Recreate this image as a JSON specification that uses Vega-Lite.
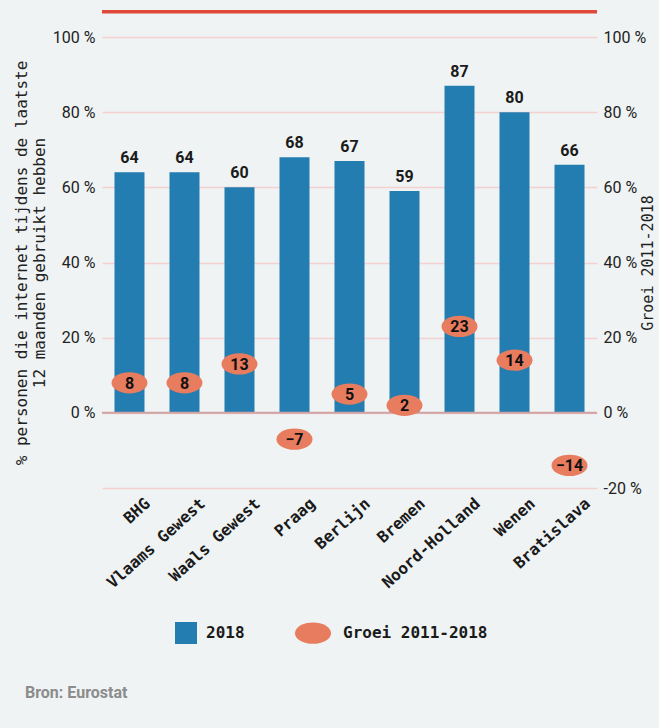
{
  "$schema": "https://vega.github.io/schema/vega-lite/v6.json",
  "autosize": "none",
  "width": 495,
  "height": 451,
  "padding": {"left": 102, "top": 37, "right": 62, "bottom": 240},
  "background": "#eff3f4",
  "title": {
    "text": "Bron: Eurostat",
    "orient": "bottom",
    "anchor": "start",
    "frame": "group",
    "offset": 38,
    "dx": -77,
    "font": "Roboto",
    "fontSize": 16,
    "fontWeight": "bold",
    "color": "#8c8c8c"
  },
  "config": {
    "view": {"stroke": null},
    "font": "Roboto"
  },
  "data": {
    "values": [
      {"regio": "BHG", "v2018": 64, "groei": 8},
      {"regio": "Vlaams Gewest", "v2018": 64, "groei": 8},
      {"regio": "Waals Gewest", "v2018": 60, "groei": 13},
      {"regio": "Praag", "v2018": 68, "groei": -7},
      {"regio": "Berlijn", "v2018": 67, "groei": 5},
      {"regio": "Bremen", "v2018": 59, "groei": 2},
      {"regio": "Noord-Holland", "v2018": 87, "groei": 23},
      {"regio": "Wenen", "v2018": 80, "groei": 14},
      {"regio": "Bratislava", "v2018": 66, "groei": -14}
    ]
  },
  "encoding": {
    "x": {
      "field": "regio",
      "type": "nominal",
      "sort": null,
      "scale": {"paddingInner": 0.4545, "paddingOuter": 0.227},
      "axis": {
        "title": null,
        "labelAngle": -42,
        "labelFont": "DejaVu Sans Mono",
        "labelFontWeight": "bold",
        "labelFontSize": 16,
        "labelColor": "#1a1a1a",
        "labelPadding": 7,
        "labelOffset": 13,
        "ticks": false,
        "domain": false
      }
    }
  },
  "layer": [
    {
      "data": {"values": [{}]},
      "mark": {"type": "rule", "color": "#e0493a", "strokeWidth": 3.5},
      "encoding": {
        "x": null,
        "y": {"datum": 106.7, "type": "quantitative", "scale": {"domain": [-20, 100]}, "axis": null}
      }
    },
    {
      "mark": {"type": "bar", "color": "#237db0"},
      "encoding": {
        "y": {
          "field": "v2018",
          "type": "quantitative",
          "scale": {"domain": [-20, 100], "nice": false, "zero": false},
          "axis": {
            "orient": "left",
            "values": [-20, 0, 20, 40, 60, 80, 100],
            "labelExpr": "datum.value < 0 ? '' : datum.value + ' %'",
            "grid": true,
            "gridColor": "#f4d0d0",
            "gridWidth": 1.5,
            "ticks": false,
            "domain": false,
            "labelFont": "Roboto",
            "labelFontSize": 16,
            "labelColor": "#222222",
            "labelPadding": 7,
            "title": ["% personen die internet tijdens de laatste", "12 maanden gebruikt hebben"],
            "titleFont": "DejaVu Sans Mono",
            "titleFontSize": 16,
            "titleFontWeight": "normal",
            "titleColor": "#222222",
            "titlePadding": 5,
            "titleLineHeight": 18
          }
        },
        "color": {
          "datum": "2018",
          "type": "nominal",
          "scale": {"domain": ["2018", "Groei 2011-2018"], "range": ["#237db0", "#e87c5f"]},
          "legend": {
            "orient": "none",
            "legendX": 65,
            "legendY": 577,
            "direction": "horizontal",
            "title": null,
            "padding": 0,
            "symbolSize": 1296,
            "labelFont": "DejaVu Sans Mono",
            "labelFontWeight": "bold",
            "labelFontSize": 16,
            "labelColor": "#1a1a1a",
            "labelOffset": 7,
            "columnPadding": 47,
            "encode": {
              "symbols": {
                "update": {
                  "shape": {"signal": "datum.value === '2018' ? 'square' : 'M-1,0A1,0.59,0,1,0,1,0A1,0.59,0,1,0,-1,0Z'"},
                  "size": {"signal": "datum.value === '2018' ? 484 : 1296"},
                  "fill": {"signal": "datum.value === '2018' ? '#1e6fb8' : '#e87c5f'"},
                  "stroke": {"value": "transparent"},
                  "opacity": {"value": 1},
                  "fillOpacity": {"value": 1}
                }
              },
              "labels": {
                "update": {
                  "dx": {"signal": "datum.value === '2018' ? -6 : 4"}
                }
              }
            }
          }
        }
      }
    },
    {
      "data": {"values": [{}]},
      "mark": {"type": "rule", "color": "#cfa3a3", "strokeWidth": 2},
      "encoding": {
        "x": null,
        "y": {"datum": 0, "type": "quantitative", "axis": null}
      }
    },
    {
      "mark": {"type": "text", "baseline": "alphabetic", "dy": -9, "font": "Roboto", "fontWeight": "bold", "fontSize": 16, "color": "#1a1a1a"},
      "encoding": {
        "y": {"field": "v2018", "type": "quantitative", "axis": null},
        "text": {"field": "v2018", "type": "quantitative"}
      }
    },
    {
      "mark": {"type": "point", "filled": true, "opacity": 1, "size": 1296, "shape": "M-1,0A1,0.59,0,1,0,1,0A1,0.59,0,1,0,-1,0Z"},
      "encoding": {
        "y": {
          "field": "groei",
          "type": "quantitative",
          "axis": {
            "orient": "right",
            "values": [-20, 0, 20, 40, 60, 80, 100],
            "labelExpr": "datum.value + ' %'",
            "grid": false,
            "ticks": false,
            "domain": false,
            "labelFont": "Roboto",
            "labelFontSize": 16,
            "labelColor": "#222222",
            "labelPadding": 6,
            "title": "Groei 2011-2018",
            "titleAngle": 270,
            "titleFont": "DejaVu Sans Mono",
            "titleFontSize": 15,
            "titleFontWeight": "normal",
            "titleColor": "#222222",
            "titlePadding": 10
          }
        },
        "color": {"datum": "Groei 2011-2018", "type": "nominal"}
      }
    },
    {
      "mark": {"type": "text", "baseline": "middle", "dy": 1, "font": "Roboto", "fontWeight": "bold", "fontSize": 16, "color": "#111111"},
      "encoding": {
        "y": {"field": "groei", "type": "quantitative", "axis": null},
        "text": {"field": "groei", "type": "quantitative"}
      }
    }
  ],
  "resolve": {"axis": {"y": "independent"}}
}
